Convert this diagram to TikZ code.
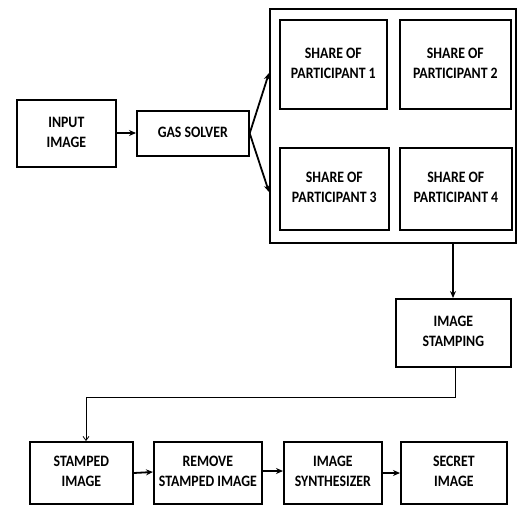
\documentclass[tikz,border=0pt]{standalone}
\usepackage{fontspec}
\setmainfont{Carlito}
\usetikzlibrary{arrows.meta}
\newcommand\lbl[1]{\scalebox{1}[1.15]{\begin{tabular}{@{}c@{}}#1\end{tabular}}}
\begin{document}
\begin{tikzpicture}[x=1pt,y=-1pt,
  box/.style={draw, line width=1.7pt, align=center, font=\bfseries\fontsize{13.8}{17.4}\selectfont, inner sep=0pt},
  conn/.style={line width=1.8pt, -{Stealth[length=7pt,width=6pt]}}]
\useasboundingbox (0,0) rectangle (517,506);
\tikzset{rbox/.style args={#1:#2:#3:#4}{box, minimum width=#3-#1, minimum height=#4-#2, anchor=north west}}
\node[rbox={16:99:115:166}] (input) at (16,99) {\lbl{INPUT\\IMAGE}};
\node[rbox={136:110:248:155}] (gas) at (136,110) {\lbl{GAS SOLVER}};
\node[rbox={269:8:515:242}] (big) at (269,8) {};
\node[rbox={279:19:386:108}] (s1) at (279,19) {\lbl{SHARE OF\\PARTICIPANT 1}};
\node[rbox={399:19:510:108}] (s2) at (399,19) {\lbl{SHARE OF\\PARTICIPANT 2}};
\node[rbox={279:147:388:229}] (s3) at (279,147) {\lbl{SHARE OF\\PARTICIPANT 3}};
\node[rbox={399:147:511:229}] (s4) at (399,147) {\lbl{SHARE OF\\PARTICIPANT 4}};
\node[rbox={395:298:510:366}] (stamp) at (395,298) {\lbl{IMAGE\\STAMPING}};
\node[rbox={29:441:132:503}] (stamped) at (29,441) {\lbl{STAMPED\\IMAGE}};
\node[rbox={153:441:261:503}] (remove) at (153,441) {\lbl{REMOVE\\STAMPED IMAGE}};
\node[rbox={283:441:381:503}] (synth) at (283,441) {\lbl{IMAGE\\SYNTHESIZER}};
\node[rbox={400:441:506:503}] (secret) at (400,441) {\lbl{SECRET\\IMAGE}};
\draw[conn] (input.east |- 0,133) -- (gas.west |- 0,133);
\draw[conn] (gas.east) -- (big.west |- 0,73);
\draw[conn] (gas.east) -- (big.west |- 0,192);
\draw[conn] (big.south -| 453,0) -- (stamp.north -| 453,0);
\coordinate (c1) at (455,397);
\coordinate (c2) at (86,397);
\draw[line width=0.8pt, -{Straight Barb[length=4pt,width=6pt]}] (stamp.south -| 455,0) -- (c1) -- (c2) -- (stamped.north -| 86,0);
\draw[conn] (stamped.east |- 0,473) -- (remove.west |- 0,472);
\draw[conn] (remove.east |- 0,471) -- (synth.west |- 0,471);
\draw[conn] (synth.east |- 0,473) -- (secret.west |- 0,473);
\end{tikzpicture}
\end{document}
